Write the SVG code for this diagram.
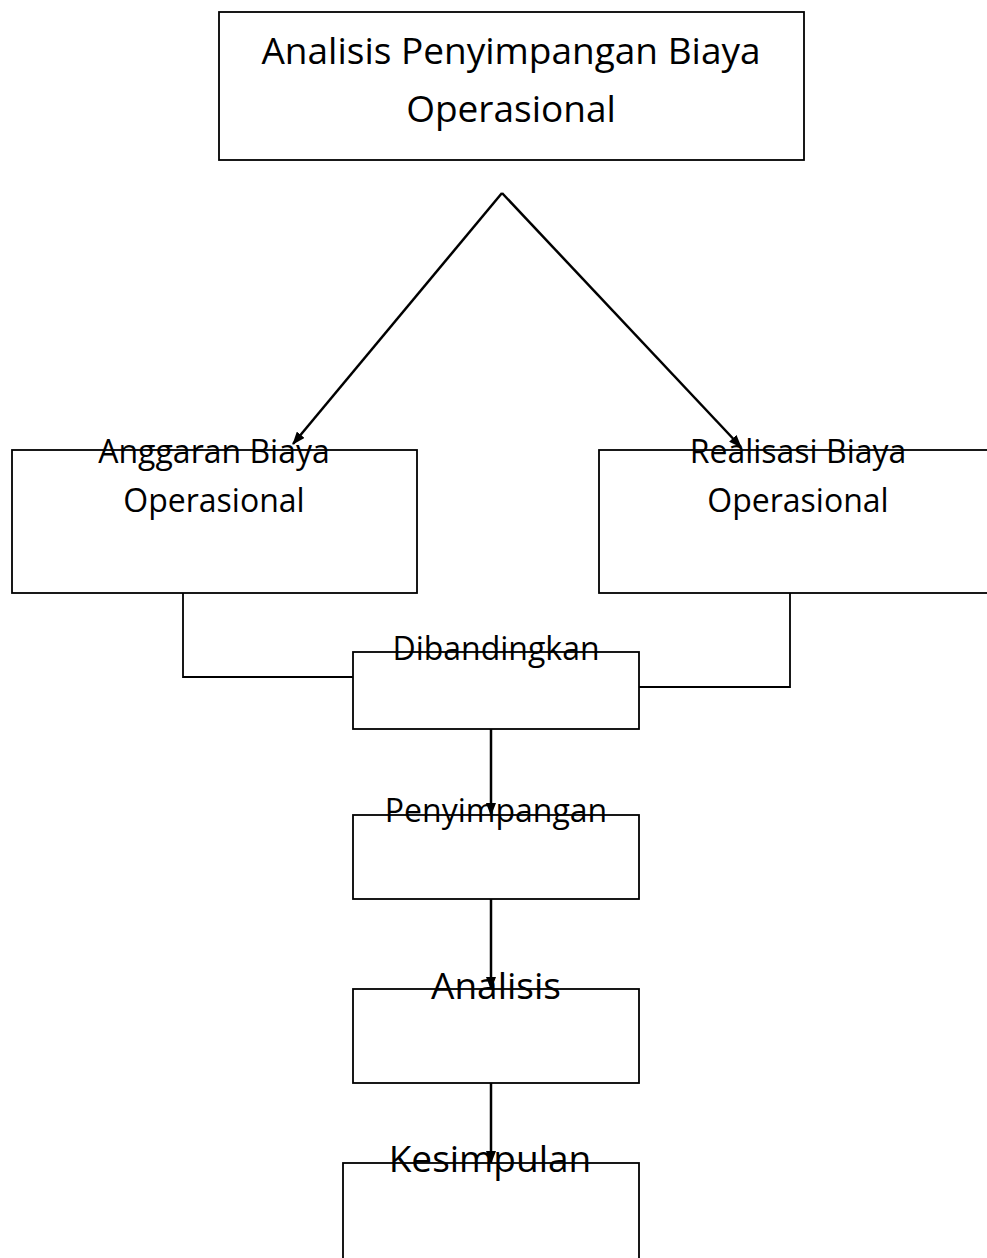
<svg xmlns="http://www.w3.org/2000/svg" width="987" height="1258" viewBox="0 0 987 1258">
  <style>
    .box { fill: none; stroke: #000; stroke-width: 1.8; }
    .conn { fill: none; stroke: #000; stroke-width: 2.5; }
    .plain { fill: none; stroke: #000; stroke-width: 1.8; }
    text { font-family: "Open Sans", "Noto Sans", "Liberation Sans", sans-serif; fill: #000; text-anchor: middle; }
    .big { font-size: 37px; }
    .mid { font-size: 32px; }
  </style>
  <defs>
    <marker id="arrow" markerWidth="13" markerHeight="10" refX="12" refY="5" orient="auto" markerUnits="userSpaceOnUse">
      <path d="M0,0 L13,5 L0,10 Z" fill="#000"/>
    </marker>
  </defs>
  <rect width="987" height="1258" fill="#fff"/>

  <g id="node-title">
    <rect class="box" x="219" y="12" width="585" height="148"/>
    <text class="big" x="511" y="64">Analisis Penyimpangan Biaya</text>
    <text class="big" x="511" y="122">Operasional</text>
  </g>

  <g id="node-anggaran">
    <rect class="box" x="12" y="450" width="405" height="143"/>
    <text class="mid" x="214" y="463">Anggaran Biaya</text>
    <text class="mid" x="214" y="512">Operasional</text>
  </g>

  <g id="node-realisasi">
    <rect class="box" x="599" y="450" width="400" height="143"/>
    <text class="mid" x="798" y="463">Realisasi Biaya</text>
    <text class="mid" x="798" y="512">Operasional</text>
  </g>

  <g id="node-dibandingkan">
    <rect class="box" x="353" y="652" width="286" height="77"/>
    <text class="mid" x="496" y="660">Dibandingkan</text>
  </g>

  <g id="node-penyimpangan">
    <rect class="box" x="353" y="815" width="286" height="84"/>
    <text class="mid" x="496" y="822">Penyimpangan</text>
  </g>

  <g id="node-analisis">
    <rect class="box" x="353" y="989" width="286" height="94"/>
    <text class="big" x="496" y="999">Analisis</text>
  </g>

  <g id="node-kesimpulan">
    <rect class="box" x="343" y="1163" width="296" height="140"/>
    <text class="big" x="490" y="1172">Kesimpulan</text>
  </g>

  <g id="connectors">
    <line class="conn" x1="502" y1="193" x2="293" y2="444" marker-end="url(#arrow)"/>
    <line class="conn" x1="502" y1="193" x2="741" y2="447" marker-end="url(#arrow)"/>
    <polyline class="plain" points="183,593 183,677 353,677"/>
    <polyline class="plain" points="790,593 790,687 639,687"/>
    <line class="conn" x1="491" y1="729" x2="491" y2="815" marker-end="url(#arrow)"/>
    <line class="conn" x1="491" y1="899" x2="491" y2="989" marker-end="url(#arrow)"/>
    <line class="conn" x1="491" y1="1083" x2="491" y2="1163" marker-end="url(#arrow)"/>
  </g>
</svg>
